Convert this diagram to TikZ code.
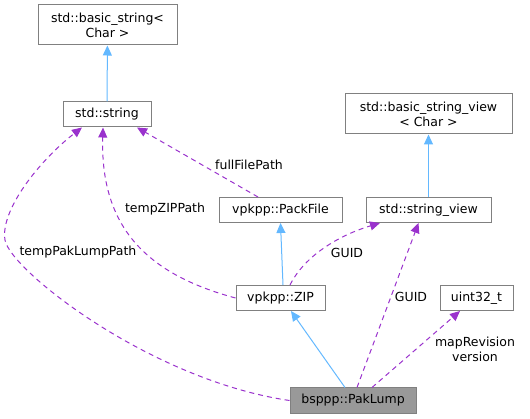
\documentclass[tikz,border=0pt]{standalone}
\usepackage{fontspec}
\setmainfont{DejaVu Sans}
\usetikzlibrary{positioning, arrows.meta}

\definecolor{edgeblue}{HTML}{63B8FF}
\definecolor{edgepurple}{HTML}{9A32CD}
\definecolor{boxgray}{HTML}{808080}
\definecolor{mainfill}{HTML}{999999}

\tikzset{
  box/.style={draw=boxgray, line width=1pt, fill=white, inner sep=0pt,
    minimum height=25pt, align=center, font=\fontsize{12.5}{15}\selectfont},
  inherit/.style={draw=edgeblue, line width=1pt,
    -{Triangle[length=10pt, width=9pt]}},
  member/.style={draw=edgepurple, line width=1pt, dash pattern=on 5pt off 4pt,
    -{Triangle[length=10pt, width=9pt]}},
  lbl/.style={inner sep=0pt, align=center, font=\fontsize{12.5}{15}\selectfont}
}

\begin{document}
\begin{tikzpicture}[x=1pt, y=-1pt]
            \useasboundingbox (0,0) rectangle (530,419);

            \node [box, minimum width=139pt, minimum height=40pt] (basicstring) at (107.5, 25) {std::basic\_string<\\Char >};
            \node [box, minimum width=88pt] (string) at (107, 114.5) {std::string};
            \node [box, minimum width=167pt, minimum height=40pt] (basicview) at (428.5, 114) {std::basic\_string\_view\\< Char >};
            \node [box, minimum width=123pt] (PackFile) at (280.5, 210) {vpkpp::PackFile};
            \node [box, minimum width=125pt] (stringview) at (428.5, 210) {std::string\_view};
            \node [box, minimum width=89pt] (ZIP) at (280.5, 298) {vpkpp::ZIP};
            \node [box, minimum width=73pt] (uint) at (476.5, 298) {uint32\_t};
            \node [box, minimum width=126pt, fill=mainfill] (PakLump) at (353, 400.5) {bsppp::PakLump};

            \draw [inherit] (string) -- (basicstring);
            \draw [inherit] (stringview) -- (basicview);
            \draw [inherit] ([xshift=2.5pt]ZIP.north) -- (PackFile.south);
            \draw [inherit] ([xshift=-8pt]PakLump.north) -- ([xshift=10.5pt]ZIP.south);

            \draw [member] ([xshift=-22.5pt]PackFile.north) -- ([xshift=30pt]string.south);
            \draw [member] (ZIP.west) .. controls (150, 275) and (100, 230) .. ([xshift=-4pt]string.south);
            \draw [member] (PakLump.west) .. controls (150, 380) and (10, 270) .. (5, 240)
                .. controls (0, 210) and (40, 160) .. ([xshift=-25pt]string.south);
            \draw [member] ([xshift=9.5pt]ZIP.north) .. controls (305, 255) and (340, 235) .. ([xshift=-48.5pt]stringview.south);
            \draw [member] ([xshift=4pt]PakLump.north) -- ([xshift=-10pt]stringview.south);
            \draw [member] ([xshift=19pt]PakLump.north) -- ([xshift=-16.5pt]uint.south);

            \node [lbl] (lblFull) at (249, 165) {fullFilePath};
            \node [lbl] (lblZIP) at (165, 209) {tempZIPPath};
            \node [lbl] (lblPak) at (78, 252) {tempPakLumpPath};
            \node [lbl] (lblGUIDa) at (347, 253) {GUID};
            \node [lbl] (lblGUIDb) at (411, 297) {GUID};
            \node [lbl] (lblMap) at (475, 349) {mapRevision\\version};
        \end{tikzpicture}
\end{document}
